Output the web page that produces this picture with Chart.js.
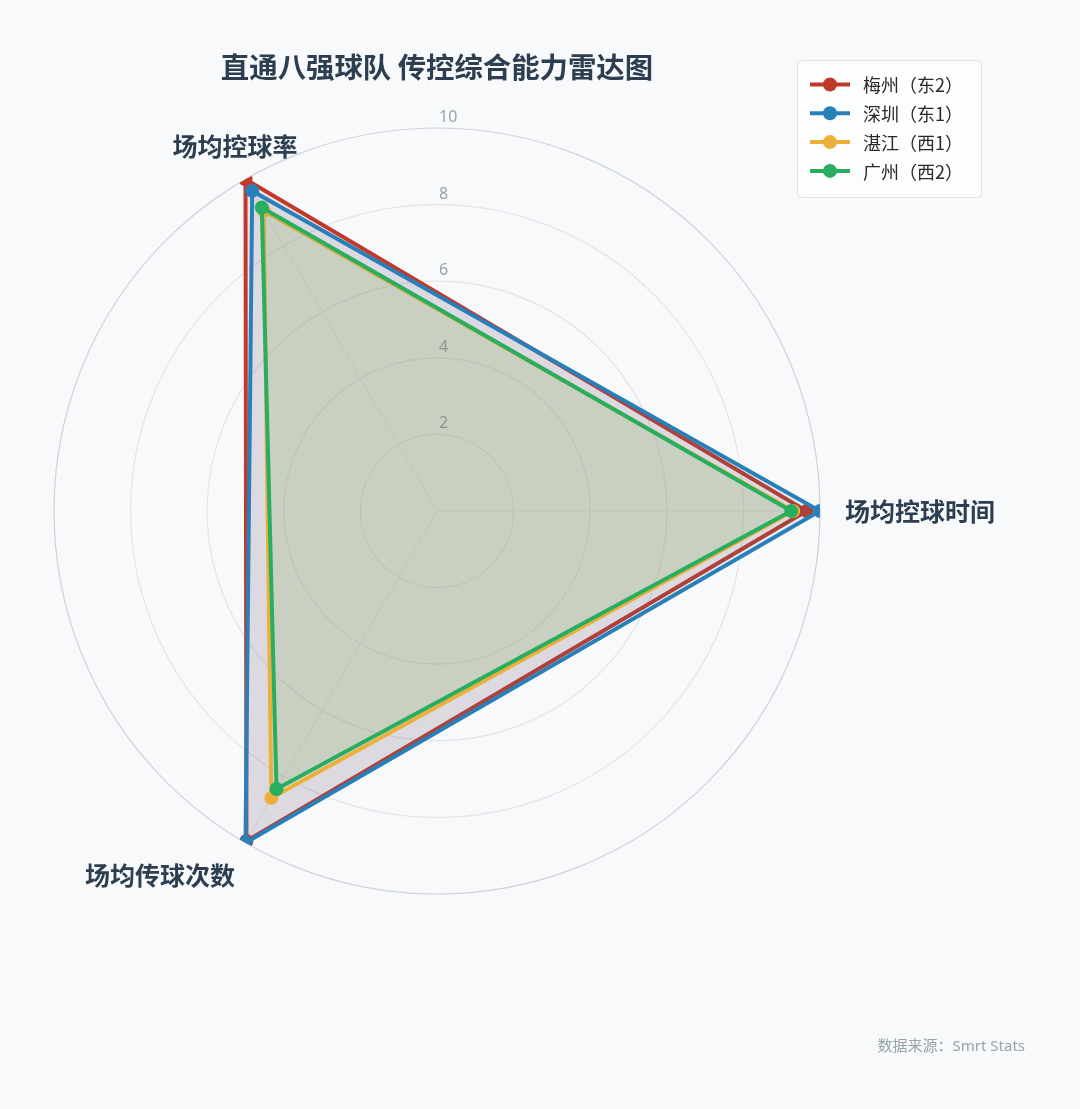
<!DOCTYPE html>
<html>
<head>
<meta charset="utf-8">
<title>直通八强球队 传控综合能力雷达图</title>
<script src="https://cdn.jsdelivr.net/npm/chart.js@4.4.1/dist/chart.umd.min.js"></script>
<style>
	html, body { margin: 0; padding: 0; background: #f8f9fb; }
	#wrap { width: 1080px; height: 1109px; position: relative; }
</style>
</head>
<body>
<div id="wrap"><canvas id="radar"></canvas></div>
<script>
// axes, clockwise from the right
const axisLabels = ['场均控球时间', '场均传球次数', '场均控球率'];
const teamNames = ['梅州（东2）', '深圳（东1）', '湛江（西1）', '广州（西2）'];

// scores 0-10, same order as axisLabels
const meizhou   = [9.65, 9.95, 10.0];
const shenzhen  = [10.0, 10.0, 9.65];
const zhanjiang = [9.3, 8.65, 9.05];
const guangzhou = [9.25, 8.38, 9.15];

const rTicks = [0, 2, 4, 6, 8, 10];
const sourceNote = '数据来源：Smrt Stats';

const FONT = '"Noto Sans", "Noto Sans CJK SC", sans-serif';
const CJK = '"Noto Sans CJK SC", "Noto Sans", sans-serif';
const palette = ['#c0392b', '#2980b9', '#ecb03a', '#27ae60'];
const series = [meizhou, shenzhen, zhanjiang, guangzhou];

const alpha = (hex, a) => {
	const n = parseInt(hex.slice(1), 16);
	return `rgba(${n >> 16},${(n >> 8) & 255},${n & 255},${a})`;
};

// extra drawing: tick numbers, ring clip, axis names, legend box, source
const decor = {
	id: 'decor',
	beforeDatasetsDraw(chart){
		const r = chart.scales.r, ctx = chart.ctx;
		ctx.save();
		ctx.font = `16px ${FONT}`;
		ctx.fillStyle = '#95a5a6';
		ctx.textAlign = 'left';
		ctx.textBaseline = 'middle';
		rTicks.forEach(v => {
			if(!v) return;
			const d = r.getDistanceFromCenterForValue(v);
			ctx.fillText(String(v), r.xCenter + 2, r.yCenter - d - 10.5);
		});
		ctx.restore();
		// lines and points stay inside the outer ring
		ctx.save();
		ctx.beginPath();
		ctx.arc(r.xCenter, r.yCenter, r.drawingArea, 0, Math.PI * 2);
		ctx.clip();
	},
	afterDatasetsDraw(chart){
		const r = chart.scales.r, ctx = chart.ctx;
		ctx.restore();

		ctx.save();
		ctx.font = `bold 25px ${CJK}`;
		ctx.fillStyle = '#2c3e50';
		axisLabels.forEach((txt, i) => {
			const a = r.getIndexAngle(i) - Math.PI / 2;
			const p = r.getPointPosition(i, r.drawingArea + 21);
			if(Math.cos(a) > 0.5){
				ctx.textAlign = 'left'; ctx.textBaseline = 'middle';
				ctx.fillText(txt, p.x + 4, p.y);
			} else if(Math.sin(a) < 0){
				ctx.textAlign = 'center'; ctx.textBaseline = 'bottom';
				ctx.fillText(txt, p.x, p.y - 2);
			} else {
				ctx.textAlign = 'right'; ctx.textBaseline = 'top';
				ctx.fillText(txt, p.x, p.y + 2);
			}
		});
		ctx.restore();

		// legend
		const lx = 797.5, ly = 60.5, lw = 184, lh = 137;
		ctx.save();
		ctx.beginPath();
		ctx.roundRect(lx, ly, lw, lh, 4);
		ctx.fillStyle = 'rgba(255,255,255,0.6)';
		ctx.fill();
		ctx.strokeStyle = '#dcdfe3';
		ctx.lineWidth = 1;
		ctx.stroke();
		ctx.font = `18px ${CJK}`;
		ctx.textAlign = 'left';
		ctx.textBaseline = 'middle';
		chart.data.datasets.forEach((ds, i) => {
			const y = 84.5 + i * 28.8;
			ctx.strokeStyle = ds.borderColor;
			ctx.lineWidth = 4;
			ctx.beginPath(); ctx.moveTo(810, y); ctx.lineTo(850, y); ctx.stroke();
			ctx.fillStyle = ds.borderColor;
			ctx.beginPath(); ctx.arc(830, y, 7, 0, Math.PI * 2); ctx.fill();
			ctx.fillStyle = '#2a2a2a';
			ctx.fillText(ds.label, 863, y + 1);
		});

		ctx.font = `15px ${FONT}`;
		ctx.fillStyle = '#95a5a6';
		ctx.textAlign = 'right';
		ctx.fillText(sourceNote, chart.width - 55, 1047);
		ctx.restore();
	}
};

new Chart(document.getElementById('radar'), {
	type: 'radar',
	data: {
		labels: axisLabels,
		datasets: series.map((vals, i) => ({
			label: teamNames[i],
			data: vals,
			order: series.length - i,
			borderColor: palette[i],
			backgroundColor: alpha(palette[i], 0.11),
			pointBackgroundColor: palette[i],
			pointBorderWidth: 0,
			pointRadius: 7,
			borderWidth: 4,
			fill: true,
			clip: false
		}))
	},
	options: {
		responsive: true,
		maintainAspectRatio: false,
		animation: false,
		layout: { padding: { left: 53, right: 259, top: 0, bottom: 214 } },
		plugins: {
			legend: { display: false },
			tooltip: { enabled: false },
			title: {
				display: true,
				text: '直通八强球队 传控综合能力雷达图',
				color: '#2c3e50',
				font: { size: 28.4, weight: 'bold', family: CJK },
				padding: { top: 50, bottom: 43 }
			}
		},
		scales: {
			r: {
				min: rTicks[0],
				max: rTicks[rTicks.length - 1],
				startAngle: 90,
				ticks: { display: false, stepSize: rTicks[1] - rTicks[0] },
				pointLabels: { display: false },
				grid: {
					circular: true,
					color: (c) => c.tick && c.tick.value === 10 ? '#cfd3d8' : '#e3e5e8',
					lineWidth: 1.2
				},
				angleLines: { color: '#e6e8eb', lineWidth: 1 }
			}
		}
	},
	plugins: [decor]
});
</script>
</body>
</html>
